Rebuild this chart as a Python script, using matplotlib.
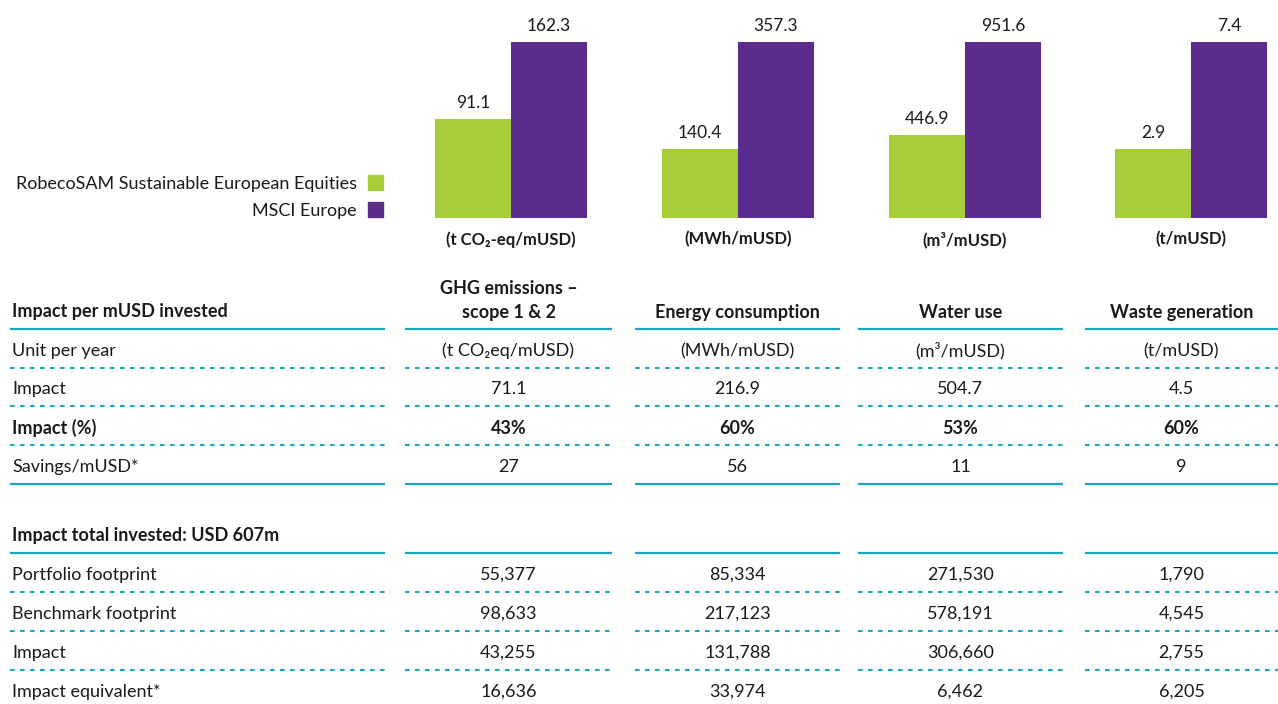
import matplotlib.pyplot as plt
from matplotlib.patches import Patch

plt.rcParams['font.family'] = ['Lato', 'DejaVu Sans']

W, H = 1278, 704
GREEN = '#a6ce39'
PURPLE = '#5b2c8c'
TEAL = '#1aa9bc'
TXT = '#1a1a1a'
FS = 13

# bar chart data
fund = [91.1, 140.4, 446.9, 2.9]
bench = [162.3, 357.3, 951.6, 7.4]
bar_units = ['(t CO₂-eq/mUSD)', '(MWh/mUSD)', '(m³/mUSD)', '(t/mUSD)']
series_names = ['RobecoSAM Sustainable European Equities', 'MSCI Europe']

# table data
col_headers = ['GHG emissions –\nscope 1 & 2', 'Energy consumption', 'Water use', 'Waste generation']
units = ['(t CO₂eq/mUSD)', '(MWh/mUSD)', '(m³/mUSD)', '(t/mUSD)']
impact = [71.1, 216.9, 504.7, 4.5]
impact_pct = [43, 60, 53, 60]
savings = [27, 56, 11, 9]
portfolio = [55377, 85334, 271530, 1790]
benchmark = [98633, 217123, 578191, 4545]
impact_total = [43255, 131788, 306660, 2755]
impact_equiv = [16636, 33974, 6462, 6205]

fig = plt.figure(figsize=(W / 100, H / 100), dpi=100)

def fx(x):
    return x / W

def fy(y):
    return 1 - y / H

# --- small bar panels ---
bar_left = [435, 662, 889, 1115]
bar_w = 152
for i in range(4):
    ax = fig.add_axes([fx(bar_left[i]), fy(218), bar_w / W, (218 - 42) / H])
    ax.bar([0, 1], [fund[i], bench[i]], width=1.0, color=[GREEN, PURPLE])
    ax.set_xlim(-0.5, 1.5)
    ax.set_ylim(0, bench[i])
    ax.axis('off')
    for x, v in zip([0, 1], [fund[i], bench[i]]):
        ax.annotate(f'{v:.1f}', (x, v), xytext=(0, 6), textcoords='offset points',
                    ha='center', va='bottom', fontsize=FS - 0.5, color=TXT)
    ax.text(0.5, -0.075, bar_units[i], transform=ax.transAxes, ha='center', va='top',
            fontsize=FS - 1, fontweight='bold', color=TXT)

handles = [Patch(color=GREEN), Patch(color=PURPLE)]
fig.legend(handles, series_names, loc='center right', bbox_to_anchor=(fx(383), fy(197)),
           frameon=False, markerfirst=False, handlelength=0.85, handleheight=0.85,
           handletextpad=0.6, labelspacing=0.6, fontsize=FS, labelcolor=TXT,
           borderpad=0, borderaxespad=0)

# --- table ---
tb = fig.add_axes([0, 0, 1, 1], zorder=-1)
tb.set_xlim(0, W)
tb.set_ylim(H, 0)
tb.axis('off')

cols = [(405, 612), (635, 840), (858, 1063), (1085, 1278)]
label_span = (10, 385)
spans = [label_span] + cols
centers = [(a + b) / 2 for a, b in cols]

def hline(y, dotted=False):
    for a, b in spans:
        if dotted:
            tb.plot([a, b], [y, y], color=TEAL, lw=1.5, dashes=(2.2, 2.6),
                    dash_capstyle='butt')
        else:
            tb.plot([a, b], [y, y], color=TEAL, lw=1.6, solid_capstyle='butt')

def row(y, label, values, bold=False):
    fw = 'bold' if bold else 'normal'
    tb.text(12, y, label, ha='left', va='center', fontsize=FS, fontweight=fw, color=TXT)
    for c, v in zip(centers, values):
        tb.text(c, y, v, ha='center', va='center', fontsize=FS, fontweight=fw, color=TXT)

# header
tb.text(12, 312, 'Impact per mUSD invested', ha='left', va='center', fontsize=FS,
        fontweight='bold', color=TXT)
for c, h in zip(centers, col_headers):
    tb.text(c, 318, h, ha='center', va='baseline', fontsize=FS, fontweight='bold',
            color=TXT, linespacing=1.5)
hline(329)

row(351, 'Unit per year', units)
hline(368, dotted=True)
row(389, 'Impact', [f'{v:.1f}' for v in impact])
hline(406, dotted=True)
row(428, 'Impact (%)', [f'{v}%' for v in impact_pct], bold=True)
hline(445, dotted=True)
row(467, 'Savings/mUSD*', [str(v) for v in savings])
hline(484)

tb.text(12, 536, 'Impact total invested: USD 607m', ha='left', va='center', fontsize=FS,
        fontweight='bold', color=TXT)
hline(553)
row(575, 'Portfolio footprint', [f'{v:,}' for v in portfolio])
hline(592, dotted=True)
row(614, 'Benchmark footprint', [f'{v:,}' for v in benchmark])
hline(631, dotted=True)
row(653, 'Impact', [f'{v:,}' for v in impact_total])
hline(670, dotted=True)
row(692, 'Impact equivalent*', [f'{v:,}' for v in impact_equiv])

fig.savefig('out.png', dpi=100)
